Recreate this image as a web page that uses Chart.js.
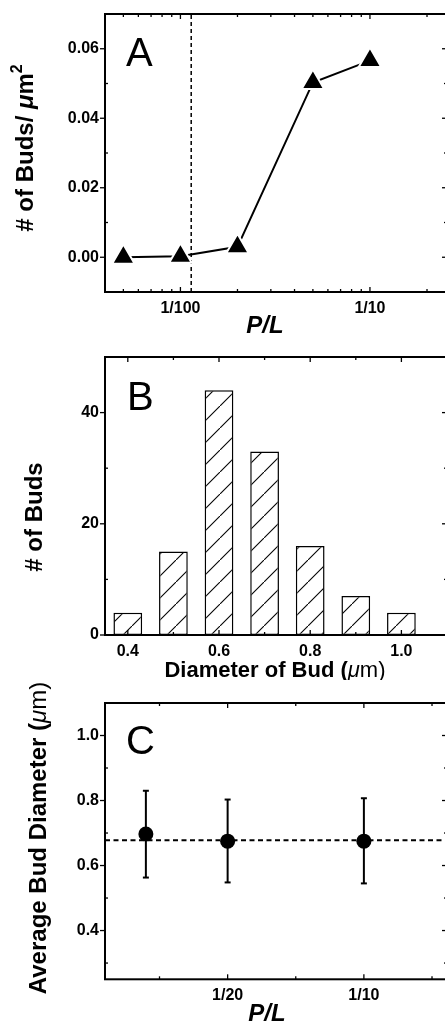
<!DOCTYPE html>
<html>
<head>
<meta charset="utf-8">
<script src="https://cdn.jsdelivr.net/npm/chart.js@4.4.1/dist/chart.umd.min.js"></script>
<style>
    html, body { margin: 0; padding: 0; background: #fff; overflow: hidden; width: 445px; height: 1032px; }
    .panel { position: absolute; left: 0; }
</style>
</head>
<body>
<div class="panel" style="top:0px"><canvas id="chartA" width="450" height="340"></canvas></div>
<div class="panel" style="top:340px"><canvas id="chartB" width="450" height="340"></canvas></div>
<div class="panel" style="top:680px"><canvas id="chartC" width="450" height="352"></canvas></div>
<script>
//! A - bud density vs P/L (log x)
var ratioA = [1 / 200, 1 / 100, 1 / 50, 1 / 20, 1 / 10];
var densityA = [0.0000, 0.0003, 0.0030, 0.0503, 0.0566];
var thresholdA = 0.0114;
var xRangeA = [0.004, 0.255];
var yRangeA = [-0.01, 0.07];
var xTicksA = [0.01, 0.1];
var xTickLabelsA = ['1/100', '1/10'];
var xMinorA = [0.005, 0.006, 0.007, 0.008, 0.009, 0.02, 0.03, 0.04, 0.05, 0.06, 0.07, 0.08, 0.09, 0.2];
var yTicksA = [0, 0.02, 0.04, 0.06];
var yMinorA = [0.01, 0.03, 0.05];

//! B - histogram of bud diameter
var diameterB = [0.4, 0.5, 0.6, 0.7, 0.8, 0.9, 1.0];
var countB = [4, 15, 44, 33, 16, 7, 4];
var xRangeB = [0.35, 1.1];
var yRangeB = [0, 50];
var xTicksB = [0.4, 0.6, 0.8, 1.0];
var xMinorB = [0.5, 0.7, 0.9];
var yTicksB = [0, 20, 40];
var yMinorB = [10, 30];

//! C - average diameter vs P/L
var ratioC = [1 / 50, 1 / 20, 1 / 10];
var meanC = [0.697, 0.675, 0.675];
var errHighC = [0.830, 0.803, 0.807];
var errLowC = [0.563, 0.548, 0.545];
var avgLineC = 0.678;
var xRangeC = [0.005, 0.1305];
var yRangeC = [0.25, 1.1];
var xTicksC = [0.05, 0.1];
var xTickLabelsC = ['1/20', '1/10'];
var xMinorC = [0.025, 0.075, 0.125];
var yTicksC = [0.4, 0.6, 0.8, 1.0];
var yMinorC = [0.3, 0.5, 0.7, 0.9];

Chart.defaults.font.family = "'Liberation Sans', Arial, sans-serif";
Chart.defaults.color = '#000';
Chart.defaults.animation = false;

var FONT = "'Liberation Sans', Arial, sans-serif";
var tickFont = { family: FONT, size: 16, weight: 'bold' };

function line(ctx, x1, y1, x2, y2) {
    ctx.beginPath();
    ctx.moveTo(x1, y1);
    ctx.lineTo(x2, y2);
    ctx.stroke();
}

//! box + inward ticks (left majors stick out like the original)
var framePlugin = {
    id: 'frame',
    afterDatasetsDraw: function (chart, args, o) {
        var ctx = chart.ctx, a = chart.chartArea;
        var xs = chart.scales.x, ys = chart.scales.y;
        ctx.save();
        ctx.strokeStyle = '#000';
        ctx.lineWidth = 1.3;
        o.xMajor.forEach(function (v) {
            var p = xs.getPixelForValue(v);
            line(ctx, p, a.bottom, p, a.bottom - 5);
            line(ctx, p, a.top, p, a.top + 5);
        });
        o.xMinor.forEach(function (v) {
            var p = xs.getPixelForValue(v);
            line(ctx, p, a.bottom, p, a.bottom - 3);
            line(ctx, p, a.top, p, a.top + 3);
        });
        o.yMajor.forEach(function (v) {
            var p = ys.getPixelForValue(v);
            line(ctx, a.left - 5, p, a.left, p);
            line(ctx, a.right, p, a.right - 5, p);
        });
        o.yMinor.forEach(function (v) {
            var p = ys.getPixelForValue(v);
            line(ctx, a.left, p, a.left + 3, p);
            line(ctx, a.right, p, a.right - 3, p);
        });
        ctx.lineWidth = 2;
        ctx.strokeRect(a.left, a.top, a.right - a.left, a.bottom - a.top);
        ctx.restore();
    }
};

//! text with mixed fonts (italic mu, superscript)
function drawRich(ctx, segs, x, y, rot) {
    ctx.save();
    ctx.translate(x, y);
    if (rot) ctx.rotate(rot);
    var total = 0;
    segs.forEach(function (s) { ctx.font = s.font; total += ctx.measureText(s.text).width; });
    var cx = -total / 2;
    ctx.textBaseline = 'middle';
    ctx.textAlign = 'left';
    ctx.fillStyle = '#000';
    segs.forEach(function (s) {
        ctx.font = s.font;
        ctx.fillText(s.text, cx, s.dy || 0);
        cx += ctx.measureText(s.text).width;
    });
    ctx.restore();
}

var textPlugin = {
    id: 'texts',
    afterDraw: function (chart, args, o) {
        var ctx = chart.ctx;
        ctx.save();
        ctx.font = '40px ' + FONT;
        ctx.fillStyle = '#000';
        ctx.textBaseline = 'alphabetic';
        ctx.fillText(o.letter, o.letterX, o.letterY);
        ctx.restore();
        o.items.forEach(function (it) {
            drawRich(ctx, it.segs, it.x, it.y, it.rot);
        });
    }
};

//! error bars for panel C
var errorBarPlugin = {
    id: 'errbars',
    beforeDatasetsDraw: function (chart, args, o) {
        if (!o.high) return;
        var ctx = chart.ctx, xs = chart.scales.x, ys = chart.scales.y;
        ctx.save();
        ctx.strokeStyle = '#000';
        ctx.lineWidth = 2;
        o.x.forEach(function (v, i) {
            var px = xs.getPixelForValue(v);
            var hi = ys.getPixelForValue(o.high[i]);
            var lo = ys.getPixelForValue(o.low[i]);
            line(ctx, px, hi, px, lo);
            line(ctx, px - 3, hi, px + 3, hi);
            line(ctx, px - 3, lo, px + 3, lo);
        });
        ctx.restore();
    }
};

function xScale(type, range, ticks, labelFn, axisH) {
    return {
        type: type,
        min: range[0],
        max: range[1],
        offset: false,
        grid: { display: false, drawTicks: false },
        border: { display: false },
        afterBuildTicks: function (s) { s.ticks = ticks.map(function (v) { return { value: v }; }); },
        afterFit: function (s) {
            s.height = axisH;
            s.paddingLeft = 0;
            s.paddingRight = 0;
        },
        ticks: { font: tickFont, padding: 7, maxRotation: 0, autoSkip: false, callback: labelFn }
    };
}

function yScale(range, ticks, labelFn) {
    return {
        type: 'linear',
        min: range[0],
        max: range[1],
        grid: { display: false, drawTicks: false },
        border: { display: false },
        afterBuildTicks: function (s) { s.ticks = ticks.map(function (v) { return { value: v }; }); },
        afterFit: function (s) {
            s.width = 105;
            s.paddingTop = 0;
            s.paddingBottom = 0;
        },
        ticks: { font: tickFont, padding: 6, autoSkip: false, callback: labelFn }
    };
}

var bold24 = 'bold 24px ' + FONT;
var bold22 = 'bold 22px ' + FONT;
var titleItalic = 'italic bold 24px ' + FONT;

document.addEventListener('DOMContentLoaded', function () {
    //!A
    new Chart(document.getElementById('chartA'), {
        type: 'scatter',
        data: {
            datasets: [
                {
                    data: ratioA.map(function (x, i) { return { x: x, y: densityA[i] }; }),
                    showLine: true,
                    borderColor: '#000',
                    borderWidth: 2,
                    pointStyle: 'triangle',
                    pointRadius: 13,
                    pointBackgroundColor: '#000',
                    pointBorderColor: '#fff',
                    pointBorderWidth: 2
                },
                {
                    data: [{ x: thresholdA, y: yRangeA[0] }, { x: thresholdA, y: yRangeA[1] }],
                    showLine: true,
                    borderColor: '#000',
                    borderWidth: 1.5,
                    borderDash: [4, 3],
                    pointRadius: 0
                }
            ]
        },
        options: {
            responsive: false,
            layout: { autoPadding: false, padding: { top: 14, right: 3, left: 0, bottom: 0 } },
            plugins: {
                legend: { display: false },
                tooltip: { enabled: false },
                frame: { xMajor: xTicksA, xMinor: xMinorA, yMajor: yTicksA, yMinor: yMinorA },
                texts: {
                    letter: 'A', letterX: 126, letterY: 66,
                    items: [
                        { x: 26, y: 148, rot: -Math.PI / 2, segs: [
                            { text: '# of Buds/ ', font: bold24 },
                            { text: 'μ', font: 'italic bold 24px ' + FONT },
                            { text: 'm', font: bold24 },
                            { text: '2', font: 'bold 16px ' + FONT, dy: -8 }
                        ] },
                        { x: 265, y: 326, segs: [{ text: 'P/L', font: titleItalic }] }
                    ]
                }
            },
            scales: {
                x: xScale('logarithmic', xRangeA, xTicksA, function (v) {
                    return xTickLabelsA[xTicksA.indexOf(v)];
                }, 48),
                y: yScale(yRangeA, yTicksA, function (v) { return v.toFixed(2); })
            }
        },
        plugins: [framePlugin, textPlugin]
    });

    //!B hatch pattern
    var tile = document.createElement('canvas');
    tile.width = 22;
    tile.height = 22;
    var tc = tile.getContext('2d');
    tc.fillStyle = '#fff';
    tc.fillRect(0, 0, 22, 22);
    tc.strokeStyle = '#000';
    tc.lineWidth = 1.1;
    line(tc, -2, 24, 24, -2);
    var hatch = document.getElementById('chartB').getContext('2d').createPattern(tile, 'repeat');

    new Chart(document.getElementById('chartB'), {
        type: 'bar',
        data: {
            datasets: [
                {
                    data: diameterB.map(function (x, i) { return { x: x, y: countB[i] }; }),
                    backgroundColor: hatch,
                    borderColor: '#000',
                    borderWidth: 1.5,
                    borderSkipped: false,
                    barPercentage: 0.63,
                    categoryPercentage: 1
                }
            ]
        },
        options: {
            responsive: false,
            layout: { autoPadding: false, padding: { top: 17, right: 3, left: 0, bottom: 0 } },
            plugins: {
                legend: { display: false },
                tooltip: { enabled: false },
                frame: { xMajor: xTicksB, xMinor: xMinorB, yMajor: yTicksB, yMinor: yMinorB },
                texts: {
                    letter: 'B', letterX: 127, letterY: 70,
                    items: [
                        { x: 35, y: 177, rot: -Math.PI / 2, segs: [{ text: '# of Buds', font: bold24 }] },
                        { x: 275, y: 331, segs: [
                            { text: 'Diameter of Bud (', font: bold22 },
                            { text: 'μ', font: 'italic 22px ' + FONT },
                            { text: 'm)', font: '22px ' + FONT }
                        ] }
                    ]
                }
            },
            scales: {
                x: xScale('linear', xRangeB, xTicksB, function (v) { return v.toFixed(1); }, 45),
                y: yScale(yRangeB, yTicksB, function (v) { return String(v); })
            }
        },
        plugins: [framePlugin, textPlugin]
    });

    //!C
    new Chart(document.getElementById('chartC'), {
        type: 'scatter',
        data: {
            datasets: [
                {
                    data: ratioC.map(function (x, i) { return { x: x, y: meanC[i] }; }),
                    pointStyle: 'circle',
                    pointRadius: 7.5,
                    pointBackgroundColor: '#000',
                    pointBorderColor: '#000',
                    pointBorderWidth: 0
                },
                {
                    data: [{ x: xRangeC[0], y: avgLineC }, { x: xRangeC[1], y: avgLineC }],
                    showLine: true,
                    borderColor: '#000',
                    borderWidth: 2,
                    borderDash: [5, 3.5],
                    pointRadius: 0
                }
            ]
        },
        options: {
            responsive: false,
            layout: { autoPadding: false, padding: { top: 23, right: 3, left: 0, bottom: 0 } },
            plugins: {
                legend: { display: false },
                tooltip: { enabled: false },
                errbars: { x: ratioC, high: errHighC, low: errLowC },
                frame: { xMajor: xTicksC, xMinor: xMinorC, yMajor: yTicksC, yMinor: yMinorC },
                texts: {
                    letter: 'C', letterX: 126, letterY: 74,
                    items: [
                        { x: 39, y: 158, rot: -Math.PI / 2, segs: [
                            { text: 'Average Bud Diameter (', font: bold24 },
                            { text: 'μ', font: 'italic 24px ' + FONT },
                            { text: 'm)', font: '24px ' + FONT }
                        ] },
                        { x: 267, y: 334, segs: [{ text: 'P/L', font: titleItalic }] }
                    ]
                }
            },
            scales: {
                x: xScale('linear', xRangeC, xTicksC, function (v) {
                    return xTickLabelsC[xTicksC.indexOf(v)];
                }, 52.7),
                y: yScale(yRangeC, yTicksC, function (v) { return v.toFixed(1); })
            }
        },
        plugins: [errorBarPlugin, framePlugin, textPlugin]
    });
});
</script>
</body>
</html>
